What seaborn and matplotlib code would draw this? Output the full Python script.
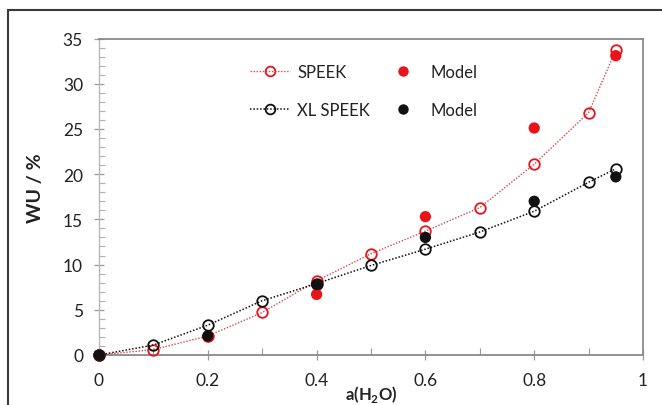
import numpy as np
import pandas as pd
import matplotlib
matplotlib.use("Agg")
import matplotlib.pyplot as plt
import seaborn as sns
from matplotlib.lines import Line2D
from matplotlib.patches import Rectangle
from matplotlib.ticker import MultipleLocator, FuncFormatter

# ---- data ----
a_exp = [0, 0.1, 0.2, 0.3, 0.4, 0.5, 0.6, 0.7, 0.8, 0.9, 0.95]
wu_speek = [0, 0.6, 2.1, 4.7, 8.2, 11.2, 13.7, 16.3, 21.1, 26.8, 33.7]
wu_xl = [0, 1.1, 3.3, 6.0, 7.9, 9.9, 11.7, 13.6, 15.9, 19.1, 20.6]
a_model = [0, 0.2, 0.4, 0.6, 0.8, 0.95]
model_speek = [0, 2.0, 6.7, 15.3, 25.1, 33.1]
model_xl = [0, 2.1, 7.8, 13.0, 17.0, 19.7]
series_labels = ["SPEEK", "XL SPEEK", "Model", "Model"]
x_ticks = [0, 0.2, 0.4, 0.6, 0.8, 1.0]
y_ticks = [0, 5, 10, 15, 20, 25, 30, 35]

sns.set_theme(style="white")
plt.rcParams['font.family'] = ['Lato', 'DejaVu Sans']

RED_LINE = "#d2484c"
RED = "#e8141a"
BLACK = "#111111"

fig = plt.figure(figsize=(6.62, 4.06), dpi=100)
ax = fig.add_axes([99/662, 50/406, (643-99)/662, (356-39.5)/406])

df_s = pd.DataFrame({"a": a_exp, "wu": wu_speek})
df_x = pd.DataFrame({"a": a_exp, "wu": wu_xl})
ms = 7.6
sns.lineplot(data=df_s, x="a", y="wu", ax=ax, color=RED_LINE, linestyle=(0, (1, 1.2)), lw=1.0,
             marker="o", markersize=ms, markerfacecolor="none", markeredgecolor=RED,
             markeredgewidth=1.3, zorder=3, clip_on=False)
sns.lineplot(data=df_x, x="a", y="wu", ax=ax, color=BLACK, linestyle=(0, (1, 1.2)), lw=1.1,
             marker="o", markersize=ms, markerfacecolor="none", markeredgecolor=BLACK,
             markeredgewidth=1.3, zorder=3, clip_on=False)
sns.scatterplot(x=a_model, y=model_speek, ax=ax, color=RED, s=66, edgecolor="none", zorder=4,
                clip_on=False)
sns.scatterplot(x=a_model, y=model_xl, ax=ax, color=BLACK, s=66, edgecolor="none", zorder=5,
                clip_on=False)

ax.set_xlim(0, 1)
ax.set_ylim(0, 35)
ax.set_xticks(x_ticks)
ax.set_yticks(y_ticks)
ax.xaxis.set_minor_locator(MultipleLocator(0.1))
ax.yaxis.set_minor_locator(MultipleLocator(1))
ax.xaxis.set_major_formatter(FuncFormatter(lambda v, p: f"{v:g}"))

for side in ["top", "right", "bottom"]:
    ax.spines[side].set_color("#8a8a8a")
    ax.spines[side].set_linewidth(1.3)
ax.spines["left"].set_color("#b8b8b8")
ax.spines["left"].set_linewidth(1.0)

ax.tick_params(axis="y", which="major", direction="inout", length=7, width=0.9,
               color="#9a9a9a", labelsize=12.5, labelcolor="#222222", pad=8, left=True)
ax.tick_params(axis="y", which="minor", direction="in", length=4, width=0.8,
               color="#b0b0b0", left=True)
ax.tick_params(axis="x", which="major", direction="inout", length=7, width=0.9,
               color="#9a9a9a", labelsize=12.5, labelcolor="#222222", pad=9, bottom=True)
ax.tick_params(axis="x", which="minor", direction="in", length=5, width=0.8,
               color="#9a9a9a", bottom=True)

ax.set_xlabel("")
fig.text((99 + 643) / 2 / 662, 1 / 406, "a(H$_\\mathregular{2}$O)", fontsize=12,
         fontweight="bold", color="#222222", ha="center", va="bottom")
ax.set_ylabel("WU / %", fontsize=14, fontweight="bold", color="#222222")
ax.yaxis.set_label_coords(-0.101, 0.53)

# legend
h1 = Line2D([], [], color=RED_LINE, linestyle=(0, (1, 1.2)), lw=1.0, marker="o", markersize=7,
            markerfacecolor="none", markeredgecolor=RED, markeredgewidth=1.3)
h2 = Line2D([], [], color=BLACK, linestyle=(0, (1, 1.2)), lw=1.1, marker="o", markersize=7,
            markerfacecolor="none", markeredgecolor=BLACK, markeredgewidth=1.3)
h3 = Line2D([], [], color=RED, linestyle="none", marker="o", markersize=7.5, markeredgewidth=0)
h4 = Line2D([], [], color=BLACK, linestyle="none", marker="o", markersize=7.5, markeredgewidth=0)
leg = ax.legend([h1, h2, h3, h4], series_labels, ncol=2, loc="upper left",
                bbox_to_anchor=(0.25, 0.967), frameon=False, fontsize=12,
                handlelength=2.4, handletextpad=0.42, columnspacing=0.8, labelspacing=1.3)
for t in leg.get_texts():
    t.set_color("#222222")

# outer frame
fig.patches.append(Rectangle((8/662, -0.1), 1.0, (406-11)/406 + 0.1, transform=fig.transFigure,
                             fill=False, edgecolor="#3a3a3a", lw=1.5, zorder=0))

fig.savefig("out.png", dpi=100)
